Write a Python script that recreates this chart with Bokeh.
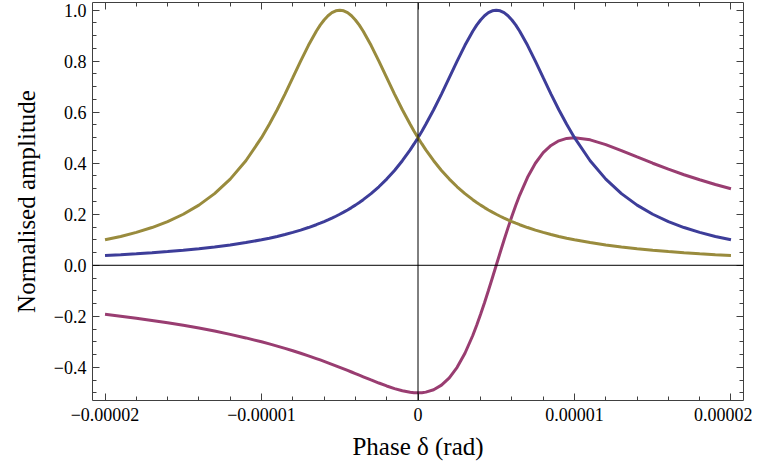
from bokeh.plotting import figure
from bokeh.models import (Range1d, FixedTicker, LinearAxis, Span, CustomJSTickFormatter)
from bokeh.embed import file_html
from bokeh.resources import INLINE

# Phase in units of 1e-6 rad
phase_us = [-20, -19, -18, -17, -16, -15, -14, -13, -12, -11, -10,
            -9.5, -9, -8.5, -8, -7.5, -7, -6.5,
            -6.25, -6, -5.75, -5.5, -5.25, -5, -4.75, -4.5, -4.25, -4, -3.75,
            -3.5, -3, -2.5, -2, -1.5, -1, -0.5, -0.25, 0, 0.25, 0.5, 1, 1.5, 2, 2.5, 3, 3.5,
            3.75, 4, 4.25, 4.5, 4.75, 5, 5.25, 5.5, 5.75, 6, 6.25,
            6.5, 7, 7.5, 8, 8.5, 9, 9.5, 10,
            11, 12, 13, 14, 15, 16, 17, 18, 19, 20]

blue_amp = [0.0385, 0.0416, 0.0451, 0.0491, 0.0536, 0.0588, 0.0648, 0.0716, 0.0796, 0.0890, 0.1000,
            0.1063, 0.1131, 0.1206, 0.1289, 0.1379, 0.1479, 0.1590,
            0.1649, 0.1712, 0.1779, 0.1848, 0.1922, 0.2000, 0.2082, 0.2169, 0.2261, 0.2358, 0.2462,
            0.2571, 0.2809, 0.3077, 0.3378, 0.3717, 0.4098, 0.4525, 0.4756, 0.5000, 0.5256, 0.5525,
            0.6098, 0.6711, 0.7353, 0.8000, 0.8621, 0.9174,
            0.9412, 0.9615, 0.9780, 0.9901, 0.9975, 1.0000, 0.9975, 0.9901, 0.9780, 0.9615, 0.9412,
            0.9174, 0.8621, 0.8000, 0.7353, 0.6711, 0.6098, 0.5525, 0.5000,
            0.4098, 0.3378, 0.2809, 0.2358, 0.2000, 0.1712, 0.1479, 0.1289, 0.1131, 0.1000]

gold_amp = [0.1000, 0.1131, 0.1289, 0.1479, 0.1712, 0.2000, 0.2358, 0.2809, 0.3378, 0.4098, 0.5000,
            0.5525, 0.6098, 0.6711, 0.7353, 0.8000, 0.8621, 0.9174,
            0.9412, 0.9615, 0.9780, 0.9901, 0.9975, 1.0000, 0.9975, 0.9901, 0.9780, 0.9615, 0.9412,
            0.9174, 0.8621, 0.8000, 0.7353, 0.6711, 0.6098, 0.5525, 0.5256, 0.5000, 0.4756, 0.4525,
            0.4098, 0.3717, 0.3378, 0.3077, 0.2809, 0.2571,
            0.2462, 0.2358, 0.2261, 0.2169, 0.2082, 0.2000, 0.1922, 0.1848, 0.1779, 0.1712, 0.1649,
            0.1590, 0.1479, 0.1379, 0.1289, 0.1206, 0.1131, 0.1063, 0.1000,
            0.0890, 0.0796, 0.0716, 0.0648, 0.0588, 0.0536, 0.0491, 0.0451, 0.0416, 0.0385]

purple_amp = [-0.1923, -0.1997, -0.2076, -0.2161, -0.2253, -0.2353, -0.2461, -0.2579, -0.2707, -0.2847, -0.3000,
              -0.3082, -0.3167, -0.3257, -0.3351, -0.3448, -0.3550, -0.3657,
              -0.3711, -0.3767, -0.3824, -0.3882, -0.3940, -0.4000, -0.4060, -0.4121, -0.4183, -0.4245, -0.4308,
              -0.4370, -0.4494, -0.4615, -0.4730, -0.4833, -0.4918, -0.4977, -0.4994, -0.5000, -0.4993, -0.4972,
              -0.4878, -0.4698, -0.4412, -0.4000, -0.3448, -0.2752,
              -0.2353, -0.1923, -0.1467, -0.0990, -0.0499, 0.0000, 0.0499, 0.0990, 0.1467, 0.1923, 0.2353,
              0.2752, 0.3448, 0.4000, 0.4412, 0.4698, 0.4878, 0.4972, 0.5000,
              0.4918, 0.4730, 0.4494, 0.4245, 0.4000, 0.3767, 0.3550, 0.3351, 0.3167, 0.3000]

x_ticks = [-20, -10, 0, 10, 20]
x_tick_labels = ["\u22120.00002", "\u22120.00001", "0", "0.00001", "0.00002"]
x_minor = [-20, -18, -16, -14, -12, -10, -8, -6, -4, -2, 0, 2, 4, 6, 8, 10, 12, 14, 16, 18, 20]
y_ticks = [-0.4, -0.2, 0.0, 0.2, 0.4, 0.6, 0.8, 1.0]
y_minor = [-0.5, -0.45, -0.4, -0.35, -0.3, -0.25, -0.2, -0.15, -0.1, -0.05, 0.0, 0.05, 0.1, 0.15,
           0.2, 0.25, 0.3, 0.35, 0.4, 0.45, 0.5, 0.55, 0.6, 0.65, 0.7, 0.75, 0.8, 0.85, 0.9, 0.95, 1.0]
x_grid = [-10, 10]
y_grid = [-0.4, -0.2, 0.2, 0.4, 0.6, 0.8]

BLUE = "#3D3D99"
PURPLE = "#993D71"
GOLD = "#998B3D"
FRAME = "#404040"
FONT = "Liberation Serif"

p = figure(width=752, height=462, output_backend="svg", toolbar_location=None,
           x_range=Range1d(-20.8, 20.8), y_range=Range1d(-0.53, 1.03),
           x_axis_type=None, y_axis_type=None,
           min_border_left=92, min_border_right=9, min_border_top=2, min_border_bottom=0)
p.outline_line_color = None
p.background_fill_color = "white"
p.border_fill_color = "white"

xt = FixedTicker(ticks=x_ticks, minor_ticks=x_minor)
yt = FixedTicker(ticks=y_ticks, minor_ticks=y_minor)
yfmt = CustomJSTickFormatter(code="return tick.toFixed(1).replace('-', '\u2212');")
nofmt = CustomJSTickFormatter(code="return '';")


def style_axis(ax, show_labels):
    ax.axis_line_color = FRAME
    ax.axis_line_width = 1
    ax.major_tick_line_color = FRAME
    ax.minor_tick_line_color = FRAME
    ax.major_tick_in = 7
    ax.major_tick_out = 0
    ax.minor_tick_in = 4
    ax.minor_tick_out = 0
    if show_labels:
        ax.major_label_text_font = FONT
        ax.major_label_text_font_size = "18px"
        ax.major_label_text_color = "black"
        ax.axis_label_text_font = FONT
        ax.axis_label_text_font_size = "25px"
        ax.axis_label_text_font_style = "normal"
        ax.axis_label_text_color = "black"
    else:
        ax.major_label_text_font_size = "1px"
        ax.major_label_standoff = 0


bx = LinearAxis(ticker=xt, axis_label="Phase \u03b4 (rad)",
                major_label_overrides=dict(zip(x_ticks, x_tick_labels)))
style_axis(bx, True)
bx.major_label_standoff = 7
bx.axis_label_standoff = 9
p.add_layout(bx, "below")

lx = LinearAxis(ticker=yt, formatter=yfmt, axis_label="Normalised amplitude")
style_axis(lx, True)
lx.major_label_standoff = 6
lx.axis_label_standoff = 11
p.add_layout(lx, "left")

tx = LinearAxis(ticker=xt, formatter=nofmt)
style_axis(tx, False)
p.add_layout(tx, "above")

rx = LinearAxis(ticker=yt, formatter=nofmt)
style_axis(rx, False)
p.add_layout(rx, "right")

p.xgrid.ticker = FixedTicker(ticks=x_grid)
p.ygrid.ticker = FixedTicker(ticks=y_grid)
for g in (p.xgrid, p.ygrid):
    g.grid_line_color = "#A0A0A0"
    g.grid_line_width = 1

p.add_layout(Span(location=0, dimension="height", line_color="black", line_width=1))
p.add_layout(Span(location=0, dimension="width", line_color="black", line_width=1))

p.line(phase_us, purple_amp, line_color=PURPLE, line_width=3)
p.line(phase_us, blue_amp, line_color=BLUE, line_width=3)
p.line(phase_us, gold_amp, line_color=GOLD, line_width=3)

open("out.html", "w").write(file_html(p, INLINE))
